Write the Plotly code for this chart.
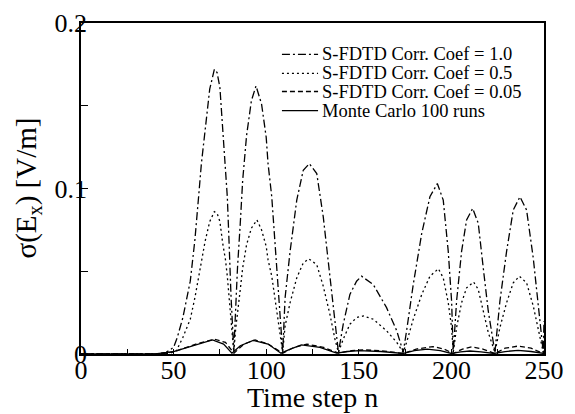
import plotly.graph_objects as go

# ---- data ----
# S-FDTD Corr. Coef = 1.0 (dash-dot)
n_c10 = [0, 40, 46, 50, 52, 55, 59, 61.5, 63.5, 65, 67, 69.5, 72, 73.5, 75, 76.5, 78, 79, 80, 81, 82.5,
         83.5, 84.5, 86, 87.3, 89.4, 92, 94.5, 97.5, 100, 101, 103, 104.8, 106.5, 108, 108.9,
         110.2, 112.9, 116.5, 120, 123.3, 127.3, 130.8, 134.4, 137.1, 139,
         141.6, 145.2, 148.8, 151.5, 157.8, 165, 170.5, 174,
         175.8, 179.4, 184, 188.4, 192.4, 195.6, 198.3, 200.1, 201,
         202.8, 205.5, 208.2, 211.5, 214.5, 217.2, 219.9, 223.5,
         226.2, 229.8, 233.4, 237, 240.6, 244.2, 247.8, 249.6, 250]
v_c10 = [0, 0, 0.001, 0.004, 0.010, 0.022, 0.044, 0.069, 0.095, 0.115, 0.135, 0.160, 0.172, 0.170, 0.161, 0.135, 0.115, 0.095, 0.066, 0.035, 0.002,
         0.030, 0.052, 0.079, 0.105, 0.132, 0.153, 0.162, 0.151, 0.131, 0.115, 0.095, 0.066, 0.040, 0.012, 0.001,
         0.034, 0.062, 0.093, 0.111, 0.115, 0.109, 0.083, 0.048, 0.018, 0.001,
         0.018, 0.036, 0.044, 0.047, 0.042, 0.028, 0.014, 0.001,
         0.014, 0.042, 0.073, 0.095, 0.103, 0.093, 0.062, 0.032, 0.001,
         0.032, 0.062, 0.081, 0.088, 0.079, 0.052, 0.026, 0.001,
         0.032, 0.062, 0.087, 0.095, 0.087, 0.058, 0.018, 0.001, 0.020]

# S-FDTD Corr. Coef = 0.5 (dotted)
n_c05 = [0, 40, 48, 51.5, 55, 59, 61.5, 63.5, 65, 67, 69.5, 72, 73.5, 75, 76.5, 78, 79, 80, 81, 82.5,
         83.5, 84.5, 86, 87.3, 89.4, 92, 95, 97.5, 100, 101, 103, 104.8, 106.5, 108, 108.9,
         110.2, 112.9, 116.5, 120, 123, 127.3, 130.8, 134.4, 137.1, 139,
         141.6, 145.2, 148.8, 152.4, 157.8, 165, 170.5, 174,
         175.8, 179.4, 184, 188.4, 193, 195.6, 198.3, 200.1, 201,
         202.8, 205.5, 208.2, 212, 214.5, 217.2, 219.9, 223.5,
         226.2, 229.8, 233.4, 236.7, 240.6, 244.2, 247.8, 249.6, 250]
v_c05 = [0, 0, 0.0005, 0.002, 0.010, 0.021, 0.034, 0.047, 0.057, 0.068, 0.080, 0.086, 0.085, 0.080, 0.067, 0.057, 0.047, 0.033, 0.017, 0.001,
         0.015, 0.026, 0.039, 0.052, 0.066, 0.076, 0.081, 0.075, 0.065, 0.057, 0.047, 0.033, 0.020, 0.006, 0.001,
         0.017, 0.031, 0.046, 0.055, 0.0575, 0.054, 0.041, 0.024, 0.009, 0.001,
         0.009, 0.018, 0.022, 0.023, 0.021, 0.014, 0.007, 0.001,
         0.007, 0.021, 0.036, 0.047, 0.0515, 0.046, 0.031, 0.016, 0.001,
         0.016, 0.031, 0.040, 0.0435, 0.039, 0.026, 0.013, 0.001,
         0.016, 0.031, 0.043, 0.047, 0.043, 0.029, 0.009, 0.001, 0.010]

# S-FDTD Corr. Coef = 0.05 (dashed)
n_c005 = [0, 44, 52, 62, 72, 78, 82.6, 88, 94, 101, 108.9, 115, 122, 131, 139,
          146, 152, 162, 174, 181, 190, 196, 201, 206, 211, 217, 223.5, 229, 236, 243, 249.6, 250]
v_c005 = [0, 0, 0.002, 0.006, 0.009, 0.007, 0.0005, 0.006, 0.0085, 0.006, 0.0005, 0.004, 0.006, 0.004, 0.0005,
          0.002, 0.0025, 0.002, 0.0003, 0.003, 0.0045, 0.003, 0.0003, 0.003, 0.0043, 0.003, 0.0003, 0.0035, 0.0048, 0.0035, 0.0003, 0.002]

# Monte Carlo 100 runs (solid)
n_mc = [0, 40, 50, 60, 71, 77, 81.5, 86, 93, 101, 108, 113, 119, 129, 138,
        144, 150, 162, 174, 180, 187, 194, 200, 205, 210, 216, 223, 229, 236, 243, 250]
v_mc = [0, 0, 0.0015, 0.005, 0.0085, 0.006, 0.0005, 0.005, 0.0082, 0.006, 0.0005, 0.003, 0.0055, 0.004, 0.0005,
        0.0015, 0.002, 0.0015, 0.0003, 0.002, 0.003, 0.002, 0.0003, 0.0013, 0.0018, 0.0013, 0.0003, 0.0015, 0.0022, 0.0015, 0.0003]

names = ["S-FDTD Corr. Coef = 1.0", "S-FDTD Corr. Coef = 0.5",
         "S-FDTD Corr. Coef = 0.05", "Monte Carlo 100 runs"]
dashes = ["8px,3px,2px,3px", "2px,3px", "5px,3px", "solid"]

x_ticks = [0, 50, 100, 150, 200, 250]
y_ticks = [0, 0.1, 0.2]
y_tick_text = ["0", "0.1", "0.2"]
x_title = "Time step n"
y_title = "σ(E<sub>x</sub>) [V/m]"

FONT = "Liberation Serif, Times New Roman, serif"

fig = go.Figure()
series = [(n_c10, v_c10), (n_c05, v_c05), (n_c005, v_c005), (n_mc, v_mc)]
for (nx, vy), nm, dash in zip(series, names, dashes):
    fig.add_trace(go.Scatter(x=nx, y=vy, mode="lines", name=nm, showlegend=False,
                             line=dict(color="black", width=1.3, dash=dash)))

# legend drawn as line samples + text (compact row spacing as in the reference)
leg_x0, leg_x1, leg_tx = 0.434, 0.512, 0.517
leg_rows = [0.905, 0.848, 0.793, 0.735]
shapes = []
annotations = []
for nm, dash, yy in zip(names, dashes, leg_rows):
    shapes.append(dict(type="line", xref="paper", yref="paper", x0=leg_x0, x1=leg_x1, y0=yy, y1=yy,
                       line=dict(color="black", width=1.3, dash=dash)))
    annotations.append(dict(xref="paper", yref="paper", x=leg_tx, y=yy, xanchor="left", yanchor="middle",
                            text=nm, showarrow=False,
                            font=dict(family=FONT, size=18.5, color="black")))

# axis titles
annotations.append(dict(xref="paper", yref="paper", x=0.5, y=0, xanchor="center", yanchor="middle",
                        yshift=-43, text=x_title, showarrow=False,
                        font=dict(family=FONT, size=28, color="black")))
annotations.append(dict(xref="paper", yref="paper", x=0, y=0.5, xanchor="center", yanchor="middle",
                        xshift=-54, textangle=-90, text=y_title, showarrow=False,
                        font=dict(family=FONT, size=29, color="black")))

# the page body has an 8px margin, so the figure is offset by 8px
fig.update_layout(
    width=567, height=406,
    margin=dict(l=73, r=31, t=15, b=60, autoexpand=False),
    paper_bgcolor="white", plot_bgcolor="white",
    font=dict(family=FONT, color="black"),
    showlegend=False,
    shapes=shapes, annotations=annotations,
    xaxis=dict(range=[0, 250], tickvals=x_ticks, ticks="inside", ticklen=5,
               tickwidth=1.2, tickcolor="black", automargin=False,
               minor=dict(dtick=25, ticks="inside", ticklen=5, tickcolor="black", tickwidth=1.2),
               showline=True, linecolor="black", linewidth=1.5, mirror=True,
               showgrid=False, zeroline=False,
               tickfont=dict(family=FONT, size=26, color="black"),
               ticklabelstandoff=-8),
    yaxis=dict(range=[0, 0.2], tickvals=y_ticks, ticktext=y_tick_text, ticks="inside", ticklen=7,
               tickwidth=1.2, tickcolor="black", automargin=False,
               minor=dict(dtick=0.05, ticks="inside", ticklen=7, tickcolor="black", tickwidth=1.2),
               showline=True, linecolor="black", linewidth=1.5, mirror=True,
               showgrid=False, zeroline=False,
               tickfont=dict(family=FONT, size=26, color="black"),
               ticklabelstandoff=-13),
    xaxis2=dict(range=[0, 250], overlaying="x", side="top", anchor="y", dtick=25, tick0=0,
                ticks="inside", ticklen=11, tickwidth=1.2, tickcolor="black", automargin=False,
                showticklabels=False, showgrid=False, zeroline=False, showline=False),
    yaxis2=dict(range=[0, 0.2], overlaying="y", side="right", anchor="x", dtick=0.05, tick0=0,
                ticks="inside", ticklen=9, tickwidth=1.2, tickcolor="black", automargin=False,
                showticklabels=False, showgrid=False, zeroline=False, showline=False),
)

fig.write_html("out.html")
